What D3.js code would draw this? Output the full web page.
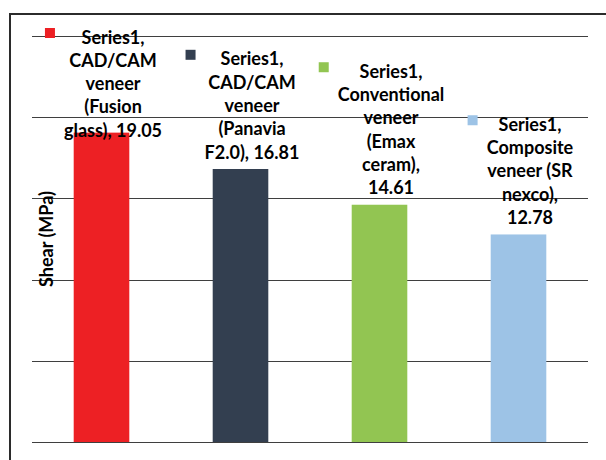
<!DOCTYPE html>
<html><head><meta charset="utf-8">
<script src="https://cdn.jsdelivr.net/npm/d3@7"></script>
<style>html,body{margin:0;padding:0;background:#fff;}svg{display:block;}</style>
</head><body>
<svg id="c" width="606" height="460"></svg>
<script>
const categories = ["CAD/CAM veneer (Fusion glass)", "CAD/CAM veneer (Panavia F2.0)", "Conventional veneer (Emax ceram)", "Composite veneer (SR nexco)"];
const values = [19.05, 16.81, 14.61, 12.78];
const colors = ["#ED2024", "#333F50", "#92C552", "#9DC3E6"];
const labelLines = [
  ["Series1,", "CAD/CAM", "veneer", "(Fusion", "glass), 19.05"],
  ["Series1,", "CAD/CAM", "veneer", "(Panavia", "F2.0), 16.81"],
  ["Series1,", "Conventional", "veneer", "(Emax", "ceram),", "14.61"],
  ["Series1,", "Composite", "veneer (SR", "nexco),", "12.78"]
];
const yTicks = [0, 5, 10, 15, 20, 25];
const yTitle = "Shear (MPa)";

const svg = d3.select("#c");
const font = "Lato, 'Open Sans', sans-serif";
const pLeft = 32, pRight = 588, pTop = 36, pBottom = 442;

// chart frame
svg.append("rect").attr("x", 10).attr("y", 14).attr("width", 620).attr("height", 480)
  .attr("fill", "none").attr("stroke", "#2b2b2b").attr("stroke-width", 2);

const x = d3.scaleBand().domain(categories).range([pLeft, pRight]).paddingInner(0.6).paddingOuter(0.3);
const y = d3.scaleLinear().domain([0, 25]).range([pBottom, pTop]);

// gridlines
svg.append("g").selectAll("line").data(yTicks).join("line")
  .attr("x1", pLeft).attr("x2", pRight)
  .attr("y1", d => Math.round(y(d)) + 0.5).attr("y2", d => Math.round(y(d)) + 0.5)
  .attr("stroke", "#3f3f3f").attr("stroke-width", 1.2);

// bars
svg.append("g").selectAll("rect").data(values).join("rect")
  .attr("x", (d, i) => x(categories[i]))
  .attr("width", x.bandwidth())
  .attr("y", d => y(d))
  .attr("height", d => y(0) - y(d))
  .attr("fill", (d, i) => colors[i]);

// y axis title
svg.append("text")
  .attr("transform", `translate(53,${(pTop + pBottom) / 2}) rotate(-90)`)
  .attr("text-anchor", "middle")
  .attr("font-family", font).attr("font-weight", "bold").attr("font-size", 18)
  .attr("fill", "#000").text(yTitle);

// data labels with legend keys
const lh = 23.3, fs = 18, keySize = 10, gap = 9;
values.forEach((v, i) => {
  const lines = labelLines[i];
  const n = lines.length;
  let lastY = y(v) - 18;
  let firstY = lastY - (n - 1) * lh;
  if (firstY < y(25)) { firstY = y(25); }
  const g = svg.append("g");
  const t = g.append("text")
    .attr("font-family", font).attr("font-weight", "bold").attr("font-size", fs)
    .attr("fill", "#000").attr("text-anchor", "middle");
  lines.forEach((s, k) => {
    t.append("tspan").attr("x", 0).attr("y", firstY + k * lh).attr("dy", "0.42em").text(s);
  });
  const w = t.node().getBBox().width;
  const blockW = keySize + gap + w;
  const cx = x(categories[i]) + x.bandwidth() / 2 + 2;
  const textCx = cx - blockW / 2 + keySize + gap + w / 2;
  t.attr("transform", `translate(${textCx},0)`);
  g.append("rect")
    .attr("x", cx - blockW / 2).attr("y", firstY - 3 - keySize / 2)
    .attr("width", keySize).attr("height", keySize)
    .attr("fill", colors[i]);
});
</script>
</body></html>
